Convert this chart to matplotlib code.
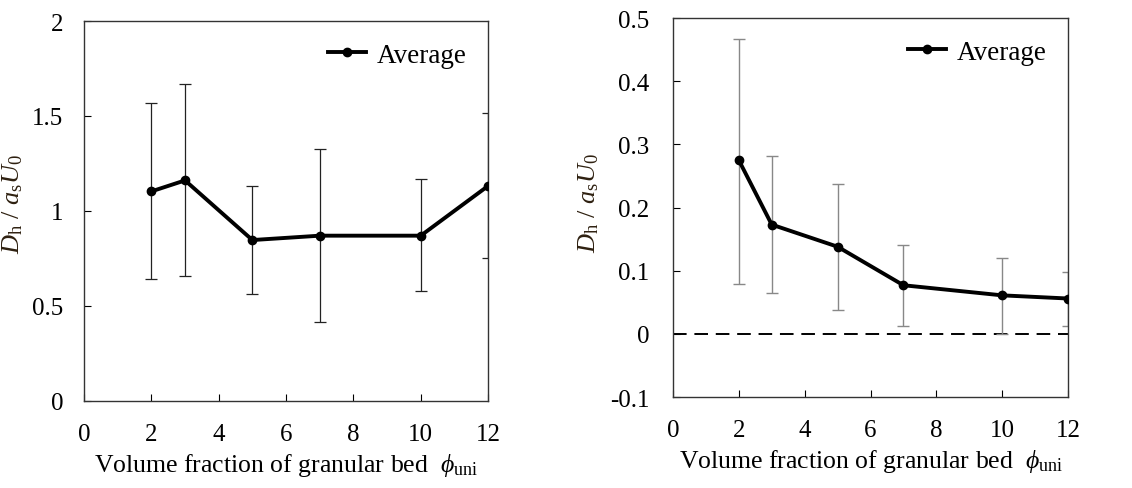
import matplotlib
matplotlib.use("Agg")
import matplotlib.pyplot as plt

plt.rcParams['font.family'] = ['Liberation Serif', 'DejaVu Serif']
plt.rcParams['mathtext.fontset'] = 'custom'
plt.rcParams['mathtext.rm'] = 'Liberation Serif'
plt.rcParams['mathtext.it'] = 'Liberation Serif:italic'

x = [2, 3, 5, 7, 10, 12]

left_mean = [1.103, 1.161, 0.847, 0.870, 0.870, 1.132]
left_upper = [1.570, 1.668, 1.133, 1.325, 1.170, 1.516]
left_lower = [0.640, 0.658, 0.563, 0.414, 0.581, 0.751]

right_mean = [0.275, 0.173, 0.138, 0.077, 0.061, 0.056]
right_upper = [0.4675, 0.282, 0.237, 0.1414, 0.1208, 0.0976]
right_lower = [0.0797, 0.0644, 0.038, 0.0132, 0.0, 0.012]

xticks = [0, 2, 4, 6, 8, 10, 12]
left_yticks = [0, 0.5, 1, 1.5, 2]
left_ylabels = ['0', '0.5', '1', '1.5', '2']
right_yticks = [-0.1, 0, 0.1, 0.2, 0.3, 0.4, 0.5]
right_ylabels = ['-0.1', '0', '0.1', '0.2', '0.3', '0.4', '0.5']

fig = plt.figure(figsize=(11.32, 4.89), dpi=100)
axL = fig.add_axes([0.0742, 0.178, 0.357, 0.777])
axR = fig.add_axes([0.5945, 0.186, 0.349, 0.775])

ylab = r'$D_{\mathrm{h}}\ /\ a_{\mathrm{s}}U_0$'
xlab = r'Volume fraction of granular bed  $\phi_{\mathrm{uni}}$'


def style(ax, yt, yl, ylim, ypad, ylab_xy):
    ax.set_xlim(0, 12)
    ax.set_ylim(*ylim)
    ax.set_xticks(xticks)
    ax.set_xticklabels([str(t) for t in xticks])
    ax.set_yticks(yt)
    ax.set_yticklabels(yl)
    ax.tick_params(direction='in', length=5, width=0.8, labelsize=18)
    ax.tick_params(axis='x', pad=16)
    ax.tick_params(axis='y', pad=ypad)
    for s in ax.spines.values():
        s.set_linewidth(1.0)
        s.set_color('#333333')
    ax.set_xlabel(xlab, fontsize=18.5, labelpad=4)
    ax.set_ylabel(ylab, fontsize=19, color='#2e2010')
    ax.yaxis.set_label_coords(*ylab_xy)


def yerr(m, u, l):
    return [[mi - li for mi, li in zip(m, l)], [ui - mi for mi, ui in zip(m, u)]]


axL.errorbar(x, left_mean, yerr=yerr(left_mean, left_upper, left_lower), fmt='none',
             ecolor='#222222', elinewidth=0.9, capsize=4, capthick=0.9, zorder=2)
axL.plot(x, left_mean, '-o', color='black', lw=2.8, ms=6, label='Average', zorder=3)
style(axL, left_yticks, left_ylabels, (0, 2), 15, (-0.146, 0.52))

axR.axhline(0, color='black', ls=(0, (7, 4)), lw=1.4, zorder=1)
axR.errorbar(x, right_mean, yerr=yerr(right_mean, right_upper, right_lower), fmt='none',
             ecolor='#888888', elinewidth=1.0, capsize=4, capthick=1.0, zorder=2)
axR.plot(x, right_mean, '-o', color='black', lw=2.8, ms=6, label='Average', zorder=3)
style(axR, right_yticks, right_ylabels, (-0.1, 0.5), 17, (-0.182, 0.515))

for ax in (axL, axR):
    ax.legend(loc='upper right', frameon=False, fontsize=19.5, handlelength=1.4,
              handletextpad=0.4, borderaxespad=0.4)

fig.savefig('out.png', dpi=100)
